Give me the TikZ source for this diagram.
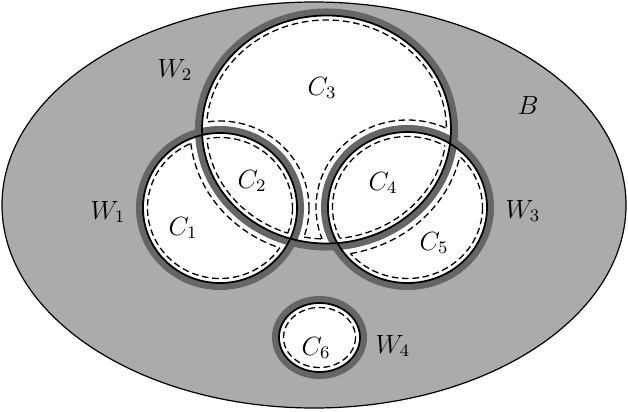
\documentclass[tikz,border=0pt]{standalone}
\usetikzlibrary{calc, positioning}

\tikzset{
  bg/.style={fill=black!33, draw=black, line width=0.55pt},
  hole/.style={fill=white},
  ring/.style={draw=black!60, line width=3.2pt},
  rim/.style={draw=black, line width=0.8pt},
  cut/.style={draw=black, line width=0.6pt, dash pattern=on 3pt off 1.7pt},
  lbl/.style={inner sep=0pt, font=\large}
}
% outside of an ellipse, for clipping
\newcommand{\outside}[3]{(-20,-20) rectangle (650,430) (#1) ellipse [x radius=#2, y radius=#3]}

\begin{document}
\begin{tikzpicture}[x=0.16mm, y=-0.16mm]
\useasboundingbox (0,0) rectangle (628,412);

% radii of the walls
\def\rxa{77}   \def\rya{75}
\def\rxb{124.5}\def\ryb{114}
\def\rxc{79.5} \def\ryc{75.5}
\def\rxd{40.5} \def\ryd{34.5}
\def\din{4.5}  \def\dout{12}

\coordinate (o) at (314,205);
\coordinate (w1) at (220,208);
\coordinate (w2) at (326.5,129.5);
\coordinate (w3) at (407.5,207.5);
\coordinate (w4) at (319.5,337.5);

\path[bg] (o) ellipse [x radius=312, y radius=203];

% white inside of the walls
\fill[hole] (w1) ellipse [x radius=\rxa, y radius=\rya];
\fill[hole] (w2) ellipse [x radius=\rxb, y radius=\ryb];
\fill[hole] (w3) ellipse [x radius=\rxc, y radius=\ryc];
\fill[hole] (w4) ellipse [x radius=\rxd, y radius=\ryd];

% walls
\draw[ring] (w1) ellipse [x radius=\rxa+3.5, y radius=\rya+3.5];
\draw[ring] (w2) ellipse [x radius=\rxb+3.5, y radius=\ryb+3.5];
\draw[ring] (w3) ellipse [x radius=\rxc+3.5, y radius=\ryc+3.5];
\draw[ring] (w4) ellipse [x radius=\rxd+3.5, y radius=\ryd+3.5];

\draw[rim] (w1) ellipse [x radius=\rxa, y radius=\rya];
\draw[rim] (w2) ellipse [x radius=\rxb, y radius=\ryb];
\draw[rim] (w3) ellipse [x radius=\rxc, y radius=\ryc];
\draw[rim] (w4) ellipse [x radius=\rxd, y radius=\ryd];

% C1
\begin{scope}[even odd rule]
  \clip \outside{w2}{\rxb+\dout}{\ryb+\dout};
  \draw[cut] (w1) ellipse [x radius=\rxa-\din, y radius=\rya-\din];
\end{scope}
\begin{scope}
  \clip (w1) ellipse [x radius=\rxa-\din, y radius=\rya-\din];
  \draw[cut] (w2) ellipse [x radius=\rxb+\dout, y radius=\ryb+\dout];
\end{scope}

% C2
\begin{scope}
  \clip (w2) ellipse [x radius=\rxb-\din, y radius=\ryb-\din];
  \draw[cut] (w1) ellipse [x radius=\rxa-\din, y radius=\rya-\din];
\end{scope}
\begin{scope}
  \clip (w1) ellipse [x radius=\rxa-\din, y radius=\rya-\din];
  \draw[cut] (w2) ellipse [x radius=\rxb-\din, y radius=\ryb-\din];
\end{scope}

% C3
\begin{scope}[even odd rule]
  \clip \outside{w1}{\rxa+\dout}{\rya+\dout};
  \clip \outside{w3}{\rxc+\dout}{\ryc+\dout};
  \draw[cut] (w2) ellipse [x radius=\rxb-\din, y radius=\ryb-\din];
\end{scope}
\begin{scope}
  \clip (w2) ellipse [x radius=\rxb-\din, y radius=\ryb-\din];
  \draw[cut] (w1) ellipse [x radius=\rxa+\dout, y radius=\rya+\dout];
  \draw[cut] (w3) ellipse [x radius=\rxc+\dout, y radius=\ryc+\dout];
\end{scope}

% C4
\begin{scope}
  \clip (w2) ellipse [x radius=\rxb-\din, y radius=\ryb-\din];
  \draw[cut] (w3) ellipse [x radius=\rxc-\din, y radius=\ryc-\din];
\end{scope}
\begin{scope}
  \clip (w3) ellipse [x radius=\rxc-\din, y radius=\ryc-\din];
  \draw[cut] (w2) ellipse [x radius=\rxb-\din, y radius=\ryb-\din];
\end{scope}

% C5
\begin{scope}[even odd rule]
  \clip \outside{w2}{\rxb+\dout}{\ryb+\dout};
  \draw[cut] (w3) ellipse [x radius=\rxc-\din, y radius=\ryc-\din];
\end{scope}
\begin{scope}
  \clip (w3) ellipse [x radius=\rxc-\din, y radius=\ryc-\din];
  \draw[cut] (w2) ellipse [x radius=\rxb+\dout, y radius=\ryb+\dout];
\end{scope}

% C6
\draw[cut] (w4) ellipse [x radius=\rxd-\din, y radius=\ryd-\din];

% labels
\node[lbl] (c1) at (183,228) {$C_1$};
\node[lbl] (c2) at (252,181) {$C_2$};
\node[lbl] (c3) at (322,88) {$C_3$};
\node[lbl] (c4) at (383,183) {$C_4$};
\node[lbl] (c5) at (434,243) {$C_5$};
\node[lbl] (c6) at (316,348) {$C_6$};
\node[lbl] (b) at (528,105) {$B$};
\node[lbl] (lw1) at (108,212) {$W_1$};
\node[lbl] (lw2) at (175,70) {$W_2$};
\node[lbl] (lw3) at (523,211) {$W_3$};
\node[lbl] (lw4) at (393,346) {$W_4$};
\end{tikzpicture}
\end{document}
